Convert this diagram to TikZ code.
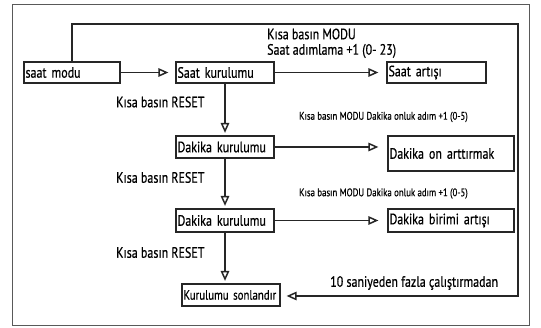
\documentclass[tikz,border=0pt]{standalone}
\usepackage{fontspec}
\setmainfont{PT Sans}[FakeStretch=0.8,FakeBold=0.5]
\usepackage{tikz}
\usetikzlibrary{shapes,arrows,arrows.meta}
\begin{document}
\begin{tikzpicture}[x=1pt,y=-1pt]
\tikzstyle{every node}=[font=\fontsize{15}{17}\selectfont]
\tikzstyle{box}=[draw=black!85, line width=1.2pt, rectangle, inner sep=1.5pt, align=left]
\tikzstyle{lbl}=[anchor=west, inner sep=0pt]
\tikzstyle{small}=[anchor=west, inner sep=0pt, font=\fontsize{11}{13}\selectfont]
\tikzstyle{flow}=[draw=black!85, line width=1.3pt, -{Triangle[open,length=10pt,width=8.5pt,line width=1.5pt]}, shorten >=7pt]
\useasboundingbox (0,0) rectangle (541,328);
\draw[line width=0.9pt, black!65] (12,4) rectangle (529,325);
% boxes
\node[box, text width=93pt, minimum height=21pt] (modu) at (72,72.5) {saat modu};
\node[box, text width=95pt, minimum height=21pt] (kur) at (225,72.5) {Saat kurulumu};
\node[box, text width=96pt, minimum height=21pt] (artis) at (436.5,72.5) {Saat artışı};
\node[box, text width=95pt, minimum height=22pt] (dk1) at (225,147) {Dakika kurulumu};
\node[box, text width=123pt, minimum height=35pt] (dkon) at (451,153.5) {Dakika on arttırmak};
\node[box, text width=95pt, minimum height=23pt] (dk2) at (225,220.5) {Dakika kurulumu};
\node[box, text width=123pt, minimum height=23pt] (dkbir) at (451,220.5) {Dakika birimi artışı};
\node[box, text width=95pt, minimum height=22pt, font=\fontsize{13.5}{16}\selectfont] (son) at (231,295) {\mbox{Kurulumu sonlandır}};
% labels
\node[lbl] (m1) at (267,34) {Kısa basın MODU};
\node[lbl] (m2) at (267,51) {Saat adımlama +1 (0- 23)};
\node[lbl] (r1) at (116,102) {Kısa basın RESET};
\node[small] (s1) at (299,117) {Kısa basın MODU Dakika onluk adım +1 (0-5)};
\node[lbl] (r2) at (116,177.5) {Kısa basın RESET};
\node[small] (s2) at (299,193.5) {Kısa basın MODU Dakika onluk adım +1 (0-5)};
\node[lbl] (r3) at (116,252.5) {Kısa basın RESET};
\node[lbl] (t1) at (330,283) {10 saniyeden fazla çalıştırmadan};
% connectors
\coordinate (c1) at (72,24);
\coordinate (c2) at (518,24);
\coordinate (c3) at (518,296);
\path[flow] (modu) -- (kur);
\path[flow, shorten >=8pt] (kur) -- (artis);
\path[flow, shorten >=2.5pt] (kur.south) -- (dk1.north);
\path[flow, shorten >=9pt] (dk1) -- (dk1 -| dkon.west);
\path[flow, shorten >=2.5pt] (dk1.south) -- (dk2.north);
\path[flow, shorten >=9pt] (dk2) -- (dkbir);
\path[flow, shorten >=2.5pt] (dk2.south) -- (dk2.south |- son.north);
\path[flow, shorten >=6pt] (modu.north) -- (c1) -- (c2) -- (c3) -- (c3 -| son.east);
\end{tikzpicture}
\end{document}
